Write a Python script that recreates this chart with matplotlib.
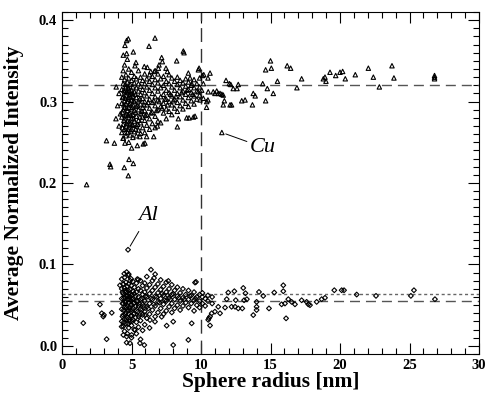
import matplotlib
matplotlib.use('Agg')
import matplotlib.pyplot as plt
import numpy as np

# ---- data (sphere radius [nm], average normalized intensity) ----

cu_core = [
    (4.3, 0.262), (4.3, 0.281), (4.3, 0.298), (4.3, 0.315), (4.3, 0.330),
    (4.4, 0.255), (4.4, 0.272), (4.4, 0.290), (4.4, 0.306), (4.4, 0.322), (4.4, 0.338),
    (4.5, 0.266), (4.5, 0.279), (4.5, 0.293), (4.5, 0.301), (4.5, 0.312), (4.5, 0.327),
    (4.6, 0.258), (4.6, 0.270), (4.6, 0.285), (4.6, 0.297), (4.6, 0.308), (4.6, 0.318), (4.6, 0.333),
    (4.7, 0.262), (4.7, 0.276), (4.7, 0.289), (4.7, 0.300), (4.7, 0.311), (4.7, 0.324),
    (4.8, 0.250), (4.8, 0.268), (4.8, 0.281), (4.8, 0.293), (4.8, 0.305), (4.8, 0.316), (4.8, 0.329), (4.8, 0.340),
    (4.9, 0.259), (4.9, 0.273), (4.9, 0.286), (4.9, 0.298), (4.9, 0.309), (4.9, 0.321),
    (5.0, 0.266), (5.0, 0.279), (5.0, 0.291), (5.0, 0.302), (5.0, 0.314), (5.0, 0.326), (5.0, 0.336),
    (5.1, 0.256), (5.1, 0.271), (5.1, 0.284), (5.1, 0.296), (5.1, 0.307), (5.1, 0.318),
    (5.2, 0.263), (5.2, 0.276), (5.2, 0.289), (5.2, 0.300), (5.2, 0.312), (5.2, 0.323), (5.2, 0.331),
    (5.35, 0.258), (5.35, 0.270), (5.35, 0.282), (5.35, 0.294), (5.35, 0.305), (5.35, 0.317), (5.35, 0.328),
    (5.5, 0.265), (5.5, 0.277), (5.5, 0.290), (5.5, 0.301), (5.5, 0.313), (5.5, 0.322), (5.5, 0.338),
    (5.65, 0.261), (5.65, 0.274), (5.65, 0.286), (5.65, 0.297), (5.65, 0.309), (5.65, 0.319), (5.65, 0.330),
    (5.8, 0.268), (5.8, 0.281), (5.8, 0.293), (5.8, 0.304), (5.8, 0.315), (5.8, 0.326),
    (5.95, 0.262), (5.95, 0.277), (5.95, 0.289), (5.95, 0.300), (5.95, 0.311), (5.95, 0.322), (5.95, 0.334),
]

cu_core_extra = [
    (4.35, 0.268), (4.35, 0.287), (4.35, 0.305), (4.45, 0.277), (4.45, 0.296), (4.45, 0.314),
    (4.55, 0.262), (4.55, 0.283), (4.55, 0.304), (4.55, 0.321), (4.65, 0.273), (4.65, 0.292),
    (4.65, 0.312), (4.75, 0.266), (4.75, 0.284), (4.75, 0.303), (4.75, 0.318), (4.85, 0.275),
    (4.85, 0.296), (4.85, 0.313), (4.95, 0.264), (4.95, 0.283), (4.95, 0.305), (5.05, 0.272),
    (5.05, 0.293), (5.05, 0.310), (5.15, 0.279), (5.15, 0.301), (5.3, 0.266), (5.3, 0.287),
    (5.3, 0.309), (5.45, 0.272), (5.45, 0.295), (5.6, 0.281), (5.6, 0.303), (5.75, 0.288),
    (5.9, 0.296), (6.0, 0.283), (6.2, 0.299), (6.4, 0.286), (6.6, 0.301), (6.8, 0.289),
    (7.0, 0.300), (7.2, 0.292), (7.4, 0.303), (7.6, 0.296), (7.8, 0.309), (8.0, 0.301),
    (8.2, 0.306), (8.6, 0.311), (9.0, 0.314), (9.4, 0.309), (9.8, 0.312),
]

cu_band = [
    (6.1, 0.271), (6.1, 0.284), (6.1, 0.296), (6.1, 0.307), (6.1, 0.318), (6.1, 0.328),
    (6.3, 0.266), (6.3, 0.279), (6.3, 0.292), (6.3, 0.303), (6.3, 0.314), (6.3, 0.325), (6.3, 0.333),
    (6.5, 0.273), (6.5, 0.287), (6.5, 0.299), (6.5, 0.310), (6.5, 0.321), (6.5, 0.331),
    (6.7, 0.268), (6.7, 0.282), (6.7, 0.295), (6.7, 0.306), (6.7, 0.317), (6.7, 0.327), (6.7, 0.338),
    (6.9, 0.276), (6.9, 0.290), (6.9, 0.302), (6.9, 0.313), (6.9, 0.323), (6.9, 0.334),
    (7.1, 0.274), (7.1, 0.294), (7.1, 0.306), (7.1, 0.317), (7.1, 0.328),
    (7.3, 0.286), (7.3, 0.298), (7.3, 0.309), (7.3, 0.320), (7.3, 0.331),
    (7.5, 0.279), (7.5, 0.291), (7.5, 0.303), (7.5, 0.314), (7.5, 0.325),
    (7.7, 0.288), (7.7, 0.300), (7.7, 0.311), (7.7, 0.322), (7.7, 0.333),
    (7.9, 0.284), (7.9, 0.296), (7.9, 0.307), (7.9, 0.318), (7.9, 0.329),
    (8.1, 0.292), (8.1, 0.303), (8.1, 0.314), (8.1, 0.325),
    (8.3, 0.288), (8.3, 0.299), (8.3, 0.310), (8.3, 0.321), (8.3, 0.330),
    (8.5, 0.295), (8.5, 0.306), (8.5, 0.317), (8.5, 0.326),
    (8.7, 0.291), (8.7, 0.302), (8.7, 0.313), (8.7, 0.323),
    (8.9, 0.298), (8.9, 0.309), (8.9, 0.319), (8.9, 0.328),
    (9.1, 0.294), (9.1, 0.305), (9.1, 0.315), (9.1, 0.324),
    (9.3, 0.301), (9.3, 0.311), (9.3, 0.320),
    (9.5, 0.297), (9.5, 0.307), (9.5, 0.317), (9.5, 0.327),
    (9.7, 0.303), (9.7, 0.313), (9.7, 0.322),
    (9.9, 0.308), (9.9, 0.318), (9.9, 0.329),
]

cu_edges = [
    (1.77, 0.198), (3.2, 0.252), (3.77, 0.249), (3.45, 0.223), (3.5, 0.220),
    (4.48, 0.219), (4.77, 0.209), (4.82, 0.229), (5.13, 0.224), (3.88, 0.279),
    (4.1, 0.270), (4.0, 0.295), (4.1, 0.310), (4.2, 0.285), (3.9, 0.318),
    (4.65, 0.375), (4.77, 0.377), (4.53, 0.369), (4.41, 0.357), (4.65, 0.359),
    (5.13, 0.361), (6.69, 0.378), (6.26, 0.368), (8.73, 0.362), (8.78, 0.360),
    (8.25, 0.350), (7.17, 0.354), (7.22, 0.349), (5.32, 0.348), (5.25, 0.344),
    (5.92, 0.343), (6.14, 0.342), (6.38, 0.337), (6.64, 0.337), (6.93, 0.341),
    (6.98, 0.345), (7.48, 0.341), (7.58, 0.337), (9.09, 0.335), (9.81, 0.339),
    (9.21, 0.329), (9.33, 0.322), (4.7, 0.352), (4.5, 0.345),
    (9.57, 0.282), (9.45, 0.281), (8.97, 0.280), (9.14, 0.280), (8.37, 0.279),
    (8.3, 0.269), (6.86, 0.270), (6.6, 0.257), (6.09, 0.257), (5.61, 0.257),
    (5.85, 0.248), (5.97, 0.249), (5.42, 0.246), (5.01, 0.243), (4.53, 0.249),
    (4.41, 0.255),
]

cu_tail = [
    (10.2, 0.333), (10.65, 0.335), (10.5, 0.329), (9.86, 0.341), (10.1, 0.332),
    (10.17, 0.322), (10.05, 0.314), (10.52, 0.312), (10.88, 0.312), (11.13, 0.313),
    (11.37, 0.310), (9.93, 0.302), (10.17, 0.304), (10.41, 0.300), (10.5, 0.302),
    (11.0, 0.310), (11.25, 0.310), (11.5, 0.309), (11.6, 0.308), (10.4, 0.293),
    (11.8, 0.326), (12.04, 0.322), (12.14, 0.321), (11.68, 0.301), (12.09, 0.296),
    (12.2, 0.296), (11.6, 0.296), (12.59, 0.316), (12.32, 0.316), (12.68, 0.321),
    (12.93, 0.301), (13.17, 0.302), (13.76, 0.310), (13.9, 0.307), (13.7, 0.296),
    (14.44, 0.322), (14.77, 0.316), (15.2, 0.310), (14.65, 0.301), (15.5, 0.325),
    (15.0, 0.350), (14.65, 0.339), (15.06, 0.341), (16.2, 0.344), (16.45, 0.341),
    (17.24, 0.328), (16.9, 0.317), (18.92, 0.330), (18.8, 0.328), (18.99, 0.325),
    (19.28, 0.336), (19.69, 0.332), (20.0, 0.336), (20.19, 0.337), (20.38, 0.328),
    (21.1, 0.333), (22.04, 0.341), (22.4, 0.330), (22.83, 0.318), (23.74, 0.344),
    (23.88, 0.329), (26.8, 0.332), (26.8, 0.328), (26.8, 0.330),
]

cu_labelled = (11.5, 0.262)

al_core = [
    (4.3, 0.030), (4.3, 0.045), (4.3, 0.058), (4.3, 0.070), (4.3, 0.082),
    (4.4, 0.024), (4.4, 0.038), (4.4, 0.052), (4.4, 0.064), (4.4, 0.076),
    (4.5, 0.018), (4.5, 0.033), (4.5, 0.047), (4.5, 0.060), (4.5, 0.071), (4.5, 0.084),
    (4.6, 0.027), (4.6, 0.041), (4.6, 0.055), (4.6, 0.066), (4.6, 0.078),
    (4.7, 0.015), (4.7, 0.035), (4.7, 0.049), (4.7, 0.061), (4.7, 0.073),
    (4.8, 0.022), (4.8, 0.039), (4.8, 0.053), (4.8, 0.064), (4.8, 0.076), (4.8, 0.088),
    (4.9, 0.030), (4.9, 0.044), (4.9, 0.057), (4.9, 0.069), (4.9, 0.080),
    (5.0, 0.010), (5.0, 0.025), (5.0, 0.037), (5.0, 0.050), (5.0, 0.062), (5.0, 0.074),
    (5.1, 0.032), (5.1, 0.046), (5.1, 0.058), (5.1, 0.067), (5.1, 0.079),
    (5.2, 0.020), (5.2, 0.040), (5.2, 0.053), (5.2, 0.064), (5.2, 0.072),
    (5.35, 0.015), (5.35, 0.029), (5.35, 0.043), (5.35, 0.055), (5.35, 0.066), (5.35, 0.077),
    (5.5, 0.023), (5.5, 0.036), (5.5, 0.049), (5.5, 0.060), (5.5, 0.070),
    (5.65, 0.008), (5.65, 0.031), (5.65, 0.045), (5.65, 0.057), (5.65, 0.068), (5.65, 0.080),
    (5.8, 0.019), (5.8, 0.038), (5.8, 0.051), (5.8, 0.063), (5.8, 0.074),
    (5.95, 0.026), (5.95, 0.042), (5.95, 0.055), (5.95, 0.066), (5.95, 0.077),
    (6.1, 0.034), (6.1, 0.048), (6.1, 0.060), (6.1, 0.071), (6.1, 0.085),
    (6.3, 0.022), (6.3, 0.039), (6.3, 0.052), (6.3, 0.064), (6.3, 0.075),
    (6.5, 0.044), (6.5, 0.057), (6.5, 0.068), (6.5, 0.080),
]

al_core_extra = [
    (4.35, 0.036), (4.35, 0.052), (4.35, 0.066), (4.45, 0.029), (4.45, 0.044), (4.45, 0.058),
    (4.55, 0.039), (4.55, 0.053), (4.55, 0.068), (4.65, 0.033), (4.65, 0.047), (4.65, 0.061),
    (4.75, 0.027), (4.75, 0.043), (4.75, 0.057), (4.75, 0.068), (4.85, 0.032), (4.85, 0.047),
    (4.85, 0.060), (4.95, 0.037), (4.95, 0.051), (4.95, 0.064), (5.05, 0.030), (5.05, 0.044),
    (5.05, 0.057), (5.15, 0.039), (5.15, 0.052), (5.3, 0.035), (5.3, 0.049), (5.3, 0.061),
    (5.45, 0.042), (5.45, 0.055), (5.6, 0.038), (5.6, 0.051), (5.75, 0.044), (5.75, 0.058),
    (5.9, 0.049), (6.0, 0.061), (6.2, 0.046), (6.4, 0.058), (6.6, 0.051), (6.8, 0.060),
    (7.0, 0.053), (7.2, 0.064), (7.4, 0.056), (7.6, 0.062), (7.8, 0.057), (8.0, 0.064),
    (8.4, 0.059), (8.8, 0.057), (9.2, 0.061), (9.6, 0.058),
]

al_band = [
    (6.7, 0.036), (6.7, 0.049), (6.7, 0.061), (6.7, 0.072), (6.7, 0.088),
    (6.9, 0.041), (6.9, 0.054), (6.9, 0.065), (6.9, 0.076),
    (7.1, 0.046), (7.1, 0.058), (7.1, 0.069), (7.1, 0.081),
    (7.3, 0.039), (7.3, 0.051), (7.3, 0.062), (7.3, 0.073),
    (7.5, 0.043), (7.5, 0.055), (7.5, 0.066), (7.5, 0.078),
    (7.7, 0.048), (7.7, 0.059), (7.7, 0.070),
    (7.9, 0.041), (7.9, 0.052), (7.9, 0.063), (7.9, 0.075),
    (8.1, 0.046), (8.1, 0.057), (8.1, 0.068),
    (8.3, 0.050), (8.3, 0.061), (8.3, 0.072),
    (8.5, 0.044), (8.5, 0.055), (8.5, 0.065),
    (8.7, 0.049), (8.7, 0.059), (8.7, 0.070),
    (8.9, 0.053), (8.9, 0.063),
    (9.1, 0.047), (9.1, 0.057), (9.1, 0.068),
    (9.3, 0.052), (9.3, 0.062),
    (9.5, 0.043), (9.5, 0.056), (9.5, 0.066),
    (9.7, 0.050), (9.7, 0.060),
    (9.9, 0.047), (9.9, 0.055), (9.9, 0.063),
    (10.1, 0.052), (10.1, 0.060), (10.1, 0.065),
    (10.3, 0.049), (10.3, 0.058),
    (10.5, 0.055), (10.5, 0.062),
    (10.8, 0.052), (10.8, 0.060),
]

al_edges = [
    (1.53, 0.028), (2.73, 0.0508), (2.86, 0.040), (2.97, 0.036), (3.02, 0.038),
    (3.58, 0.0406), (3.21, 0.0082), (4.65, 0.004), (4.89, 0.0033), (5.61, 0.0033),
    (5.92, 0.001), (8.0, 0.001), (6.69, 0.0297), (7.53, 0.0248), (8.0, 0.0297),
    (4.29, 0.0236), (4.41, 0.0134), (4.65, 0.0114), (5.01, 0.0134), (5.25, 0.0195),
    (5.97, 0.0378), (6.33, 0.0317), (7.17, 0.0357), (9.09, 0.0073), (9.33, 0.0277),
    (6.4, 0.0935), (4.48, 0.0886), (4.65, 0.0906), (4.77, 0.0866), (4.96, 0.0825),
    (5.49, 0.0813), (6.62, 0.0833), (7.65, 0.0797), (4.17, 0.0744), (4.41, 0.0756),
    (5.42, 0.082), (9.64, 0.0785), (9.57, 0.0777),
]

al_tail = [
    (13.04, 0.0711), (15.92, 0.0744), (15.92, 0.0671), (15.27, 0.0655), (14.17, 0.0662),
    (14.48, 0.0613), (11.96, 0.0655), (12.4, 0.0671), (19.59, 0.0683), (20.12, 0.0683),
    (13.2, 0.0646), (13.3, 0.0573), (12.5, 0.0561), (11.85, 0.0573), (14.0, 0.054),
    (14.0, 0.048), (14.0, 0.044), (13.76, 0.0378), (14.89, 0.046), (13.1, 0.056),
    (12.97, 0.046), (12.68, 0.046), (12.45, 0.048), (12.2, 0.048), (11.73, 0.047),
    (11.24, 0.048), (16.04, 0.052), (15.8, 0.051), (16.28, 0.0573), (16.52, 0.054),
    (16.76, 0.051), (16.12, 0.0338), (17.24, 0.056), (17.6, 0.054), (17.72, 0.051),
    (17.84, 0.050), (18.32, 0.054), (18.68, 0.0573), (18.92, 0.059), (11.0, 0.042),
    (10.77, 0.040), (10.65, 0.036), (10.57, 0.034), (10.52, 0.032), (10.65, 0.025),
    (11.37, 0.040), (20.29, 0.0683), (21.2, 0.063), (22.59, 0.0614), (25.32, 0.0683),
    (25.1, 0.0614), (26.83, 0.0573),
]

al_labelled = (4.75, 0.118)

cu_mean = 0.32
al_mean = 0.055
al_mean_alt = 0.064
radius_cut = 10

x_ticks = [0, 5, 10, 15, 20, 25, 30]
y_ticks = [0.0, 0.1, 0.2, 0.3, 0.4]


def to_xy(*groups):
    pts = np.array([p for g in groups for p in g], dtype=float)
    return pts[:, 0], pts[:, 1]


def make_plot():
    plt.rcParams['font.family'] = ['Liberation Serif', 'DejaVu Serif']
    fig = plt.figure(figsize=(4.86, 3.94), dpi=100)
    ax = fig.add_axes([62 / 486, 40 / 394, 417 / 486, 342 / 394])

    # reference lines
    ax.axhline(cu_mean, color='#555555', lw=1.0, dashes=(7.2, 4.3))
    ax.axhline(al_mean, color='#555555', lw=1.0, dashes=(7.2, 4.3))
    ax.axhline(al_mean_alt, color='#666666', lw=1.0, dashes=(2.2, 2.0))
    ax.axvline(radius_cut, color='#333333', lw=1.0, dashes=(10, 5))

    cx, cy = to_xy(cu_core, cu_core_extra, cu_band, cu_edges, cu_tail, [cu_labelled])
    ax.scatter(cx, cy, marker='^', s=10, facecolors='none',
               edgecolors='black', linewidths=0.8, zorder=3)

    ax_, ay_ = to_xy(al_core, al_core_extra, al_band, al_edges, al_tail, [al_labelled])
    ax.scatter(ax_, ay_, marker='D', s=6, facecolors='none',
               edgecolors='black', linewidths=0.8, zorder=3)

    # labels with leader lines
    ax.annotate('Cu', xy=cu_labelled, xytext=(13.5, 0.244),
                fontsize=16, style='italic', va='center', ha='left',
                arrowprops=dict(arrowstyle='-', lw=0.7, color='black',
                                shrinkA=0, shrinkB=3))
    ax.annotate('Al', xy=al_labelled, xytext=(6.2, 0.160),
                fontsize=16, style='italic', va='center', ha='center',
                arrowprops=dict(arrowstyle='-', lw=0.7, color='black',
                                shrinkA=3, shrinkB=3))

    ax.set_xlim(0, 30)
    ax.set_ylim(-0.01, 0.41)
    ax.set_xticks(x_ticks)
    ax.set_yticks(y_ticks)
    ax.set_xticklabels([str(t) for t in x_ticks])
    ax.set_yticklabels(['%.1f' % t for t in y_ticks])
    ax.set_xticks(np.arange(0, 31, 1), minor=True)
    ax.set_yticks(np.arange(-0.01, 0.411, 0.01), minor=True)
    ax.tick_params(which='both', direction='in', top=True, right=True,
                   labelsize=10.5, width=0.8)
    ax.tick_params(which='major', length=8)
    ax.tick_params(which='minor', length=4)
    for lab in ax.get_xticklabels() + ax.get_yticklabels():
        lab.set_fontweight('bold')
    for sp in ax.spines.values():
        sp.set_linewidth(0.8)

    ax.set_xlabel('Sphere radius [nm]', fontsize=15.5, fontweight='bold', labelpad=0)
    ax.set_ylabel('Average Normalized Intensity', fontsize=15.5, fontweight='bold', labelpad=11)

    fig.savefig('out.png', dpi=100)


if __name__ == '__main__':
    make_plot()
